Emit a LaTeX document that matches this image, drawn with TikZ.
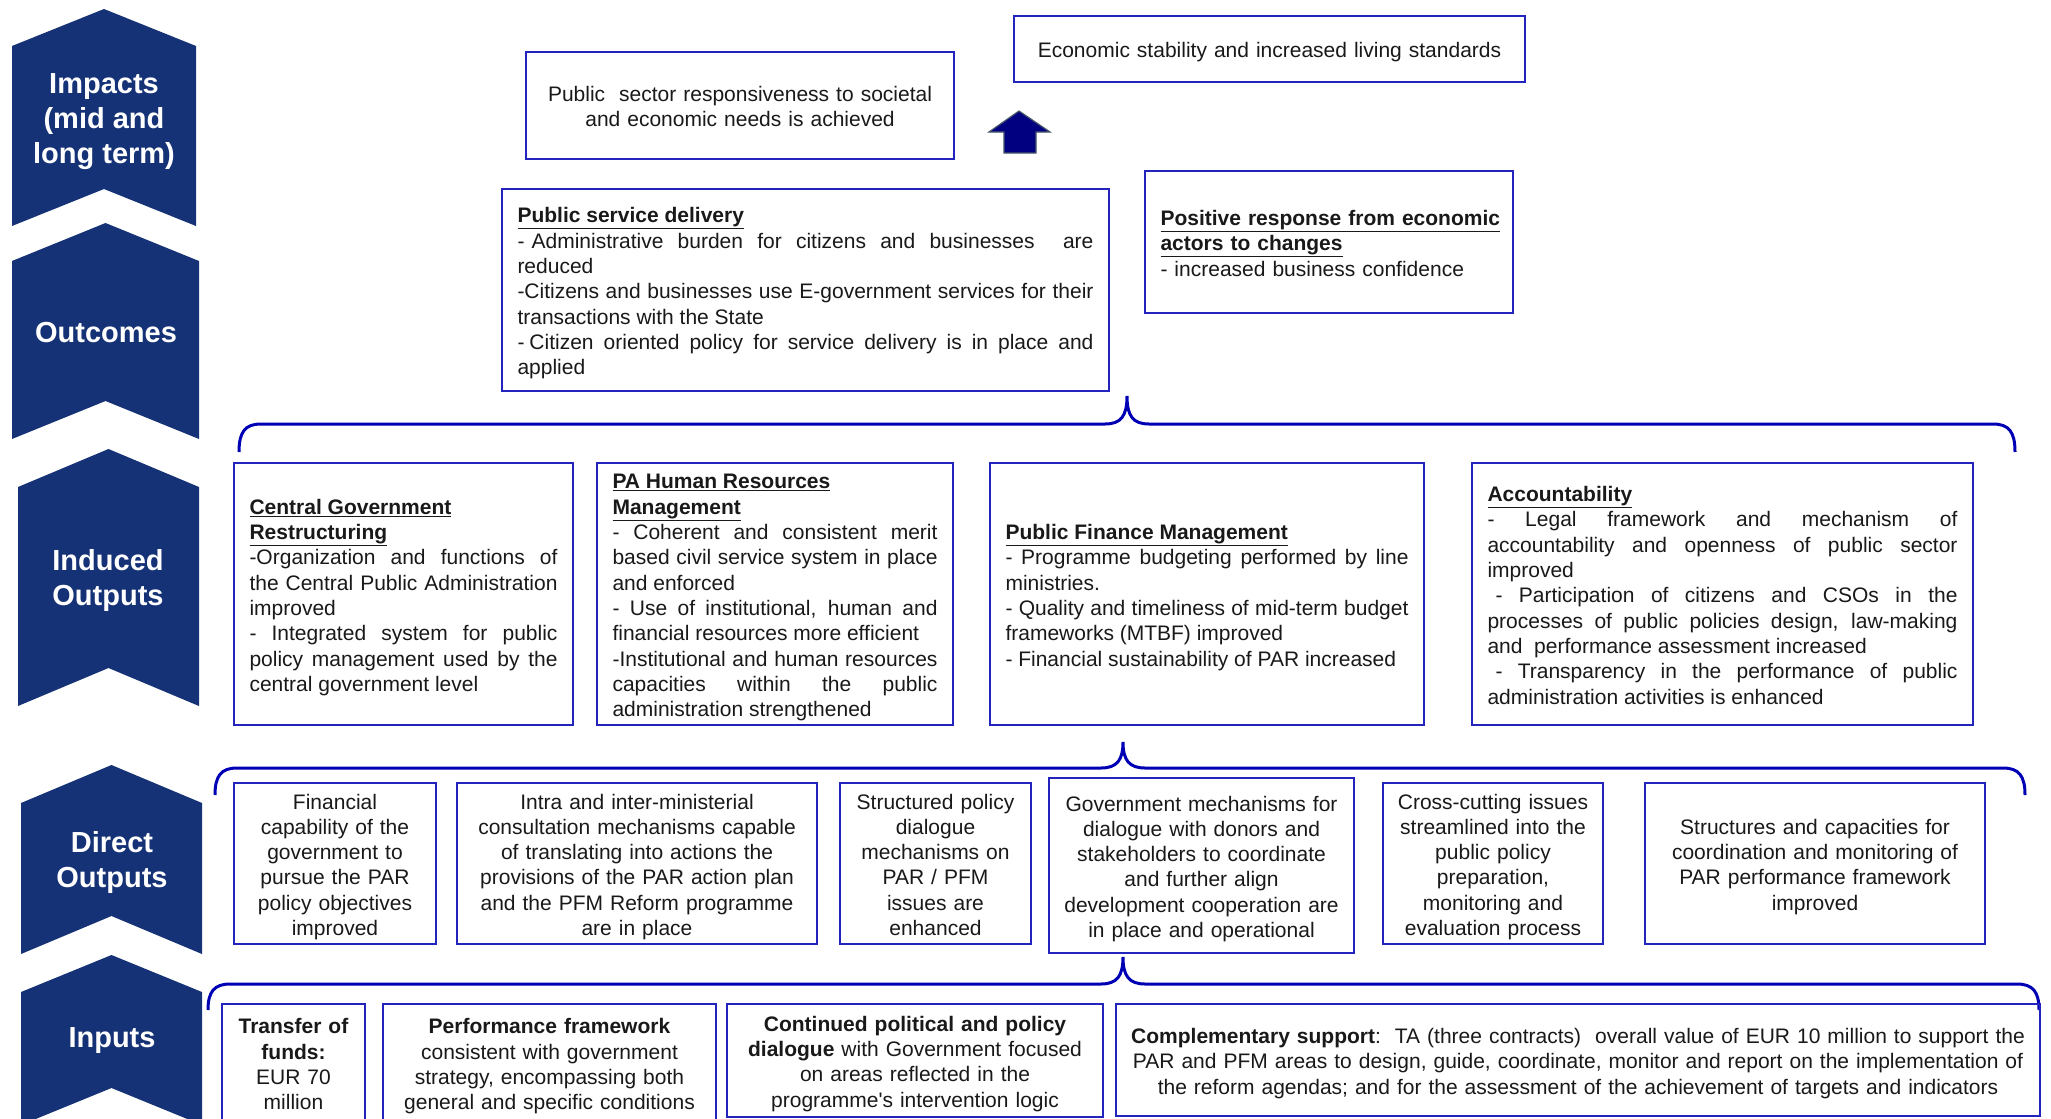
\documentclass[tikz,border=0pt]{standalone}
\usepackage{fontspec}
\setmainfont{Liberation Sans}
\usetikzlibrary{calc}
\definecolor{navy}{RGB}{22,50,118}
\definecolor{boxblue}{RGB}{35,35,190}
\definecolor{braceblue}{RGB}{0,0,180}
\definecolor{txtcol}{RGB}{25,25,25}
\definecolor{arrowfill}{RGB}{0,0,128}
\definecolor{arrowedge}{RGB}{70,85,105}
\newcommand\mychev[5]{\fill[navy] (#1,#3+#5) -- ({(#1+#2)/2},#3) -- (#2,#3+#5) -- (#2,#4) -- ({(#1+#2)/2},#4-#5) -- (#1,#4) -- cycle;}
\newcommand\mybrace[6]{\draw[brace] (#1,#4) .. controls (#1,#5+8) and (#1+6,#5) .. (#1+22,#5) -- (#3-22,#5) .. controls (#3-6,#5) and (#3,#5-8) .. (#3,#6) .. controls (#3,#5-8) and (#3+6,#5) .. (#3+22,#5) -- (#2-22,#5) .. controls (#2-6,#5) and (#2,#5+8) .. (#2,#4);}
\tikzset{
  chevtxt/.style={text=white, font=\fontsize{29}{35}\selectfont\bfseries, align=center, inner sep=0pt},
  box/.style={draw=boxblue, line width=1.8pt, inner xsep=15.5pt, inner ysep=0pt, font=\fontsize{21}{25.3}\selectfont, text=txtcol, execute at begin node={\rule{0pt}{25.2pt}}, execute at end node=\strut},
  jbox/.style={box, align=justify},
  cbox/.style={box, align=center, inner xsep=8pt},
  lbox/.style={box, align=left},
  brace/.style={draw=braceblue, line width=3pt},
}
\begin{document}
\begin{tikzpicture}[x=1pt,y=-1pt]
\useasboundingbox (0,0) rectangle (2051,1119);
\clip (0,0) rectangle (2051,1119);
\fill[white] (0,0) rectangle (2051,1119);

% chevrons
\mychev{12}{196}{9}{226}{37}
\mychev{12}{199}{223}{439}{38}
\mychev{18}{199}{449}{706}{38}
\mychev{21}{202}{765}{954}{38}
\mychev{21}{202}{955}{1125}{37}
\node[chevtxt] (l-imp) at (104,122) {Impacts\\(mid and\\long term)};
\node[chevtxt] (l-out) at (106,333) {Outcomes};
\node[chevtxt] (l-ind) at (108,580) {Induced\\Outputs};
\node[chevtxt] (l-dir) at (112,862) {Direct\\Outputs};
\node[chevtxt] (l-inp) at (112,1041) {Inputs};

% impacts
\node[cbox, text width=412pt, minimum height=107pt] (pubsec) at (740,105.5) {Public\ \ sector responsiveness to societal\\and economic needs is achieved};
\node[cbox, text width=495pt, minimum height=66pt] (econ) at (1269.5,49) {Economic stability and increased living standards};
\fill[arrowfill, draw=arrowedge, line width=1.2pt] (1004,153) -- (1004,132) -- (989,132) -- (1019,111) -- (1050,132) -- (1036,132) -- (1036,153) -- cycle;

% outcomes
\node[jbox, text width=576pt, minimum height=202pt] (psd) at (805.5,290) {\underline{\textbf{Public service delivery}}\\
- Administrative\ \ burden\ \ for\ \ citizens\ \ and\ \ businesses\ \ \ \ are\linebreak reduced\\
-Citizens and businesses use E-government services for their\linebreak transactions with the State\\
- Citizen\ \ oriented\ \ policy\ \ for\ \ service\ \ delivery\ \ is\ \ in\ \ place\ \ and\linebreak applied};
\node[lbox, text width=337pt, minimum height=142pt] (pos) at (1329,242) {\underline{\textbf{Positive response from economic}}\\
\underline{\textbf{actors to changes}}\\
- increased business confidence};

\mybrace{239}{2015}{1127}{452}{424}{396}

% induced outputs
\node[jbox, text width=308pt, minimum height=262pt] (cgr) at (403.5,594) {\underline{\textbf{Central Government}}\\
\underline{\textbf{Restructuring}}\\
-Organization and functions of\linebreak the Central Public Administration\linebreak improved\\
- Integrated system for public\linebreak policy management used by the\linebreak central government level};
\node[jbox, text width=325pt, minimum height=262pt] (pahr) at (775,594) {\underline{\textbf{PA Human Resources}}\\
\underline{\textbf{Management}}\\
- Coherent and consistent merit\linebreak based civil service system in place\linebreak and enforced\\
- Use of institutional, human and\linebreak financial resources more efficient\\
-Institutional and human resources\linebreak capacities within the public\linebreak administration strengthened};
\node[jbox, text width=403pt, minimum height=262pt] (pfm) at (1207,594) {\underline{\textbf{Public Finance Management}}\\
- Programme budgeting performed by line\linebreak ministries.\\
- Quality and timeliness of mid-term budget\linebreak frameworks (MTBF) improved\\
- Financial sustainability of PAR increased};
\node[jbox, text width=470pt, minimum height=262pt] (acc) at (1722.5,594) {\underline{\textbf{Accountability}}\\
- Legal framework and mechanism of\linebreak accountability and openness of public sector\linebreak improved\\
\hspace*{8pt}- Participation of citizens and CSOs in the\linebreak processes of public policies design, law-making\linebreak and\ \ performance assessment increased\\
\hspace*{8pt}- Transparency in the performance of public\linebreak administration activities is enhanced};

\mybrace{215}{2025}{1123}{795}{768}{742}

% direct outputs
\node[cbox, text width=186pt, minimum height=161pt] (do1) at (335,863.5) {Financial\\capability of the\\government to\\pursue the PAR\\policy objectives\\improved};
\node[cbox, text width=344pt, minimum height=161pt] (do2) at (637,863.5) {Intra and inter-ministerial\\consultation mechanisms capable\\of translating into actions the\\provisions of the PAR action plan\\and the PFM Reform programme\\are in place};
\node[cbox, text width=175pt, minimum height=161pt] (do3) at (935.5,863.5) {Structured policy\\dialogue\\mechanisms on\\PAR / PFM\\issues are\\enhanced};
\node[cbox, text width=289pt, minimum height=175pt] (do4) at (1201.5,865.5) {Government mechanisms for\\dialogue with donors and\\stakeholders to coordinate\\and further align\\development cooperation are\\in place and operational};
\node[cbox, text width=204pt, minimum height=161pt] (do5) at (1493,863.5) {Cross-cutting issues\\streamlined into the\\public policy\\preparation,\\monitoring and\\evaluation process};
\node[cbox, text width=324pt, minimum height=161pt] (do6) at (1815,863.5) {Structures and capacities for\\coordination and monitoring of\\PAR performance framework\\improved};

\mybrace{208}{2039}{1123}{1010}{984}{957}

% inputs
\node[cbox, text width=135pt, minimum height=118pt, inner xsep=4pt] (in1) at (293.5,1063) {\textbf{Transfer of}\\\textbf{funds:}\\EUR 70\\million};
\node[cbox, text width=317pt, minimum height=118pt] (in2) at (549.5,1063) {\textbf{Performance framework}\\consistent with government\\strategy, encompassing both\\general and specific conditions};
\node[cbox, text width=360pt, minimum height=113pt] (in3) at (915,1060.5) {\textbf{Continued political and policy}\\\textbf{dialogue} with Government focused\\on areas reflected in the\\programme\textquotesingle s intervention logic};
\node[cbox, text width=916pt, minimum height=112pt, inner xsep=4pt] (in4) at (1578,1060) {\textbf{Complementary support}:\ \ TA (three contracts)\ \ overall value of EUR 10 million to support the\\PAR and PFM areas to design, guide, coordinate, monitor and report on the implementation of\\the reform agendas; and for the assessment of the achievement of targets and indicators};
\end{tikzpicture}
\end{document}
